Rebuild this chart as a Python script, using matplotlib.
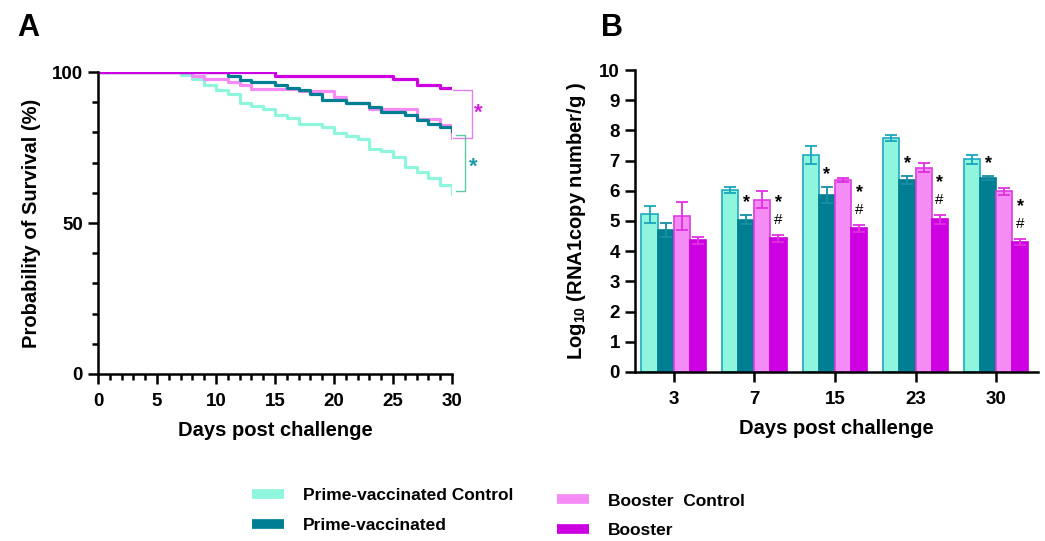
import numpy as np
import matplotlib
matplotlib.use("Agg")
import matplotlib.pyplot as plt
from matplotlib.lines import Line2D

plt.rcParams['font.family'] = ['Liberation Sans', 'DejaVu Sans']
plt.rcParams['font.weight'] = 'bold'
plt.rcParams['mathtext.fontset'] = 'custom'
plt.rcParams['mathtext.rm'] = 'Liberation Sans:bold'
plt.rcParams['mathtext.bf'] = 'Liberation Sans:bold'

# ---- data: panel A (Kaplan-Meier steps) ----
pvc_days = [0, 7, 8, 9, 10, 11, 12, 13, 14, 15, 16, 17, 19, 20, 21, 22, 23, 24, 25, 26, 27, 28, 29, 30]
pvc_surv = [100, 98.9, 97.8, 95.8, 93.9, 92.8, 89.7, 88.6, 87.9, 85.7, 84.8, 82.7, 81.8, 79.8, 78.8,
            77.7, 74.6, 73.7, 71.8, 68.7, 66.9, 64.9, 62.7, 59.7]
pv_days = [0, 11, 12, 13, 15, 16, 17, 18, 19, 21, 23, 24, 26, 27, 28, 29, 30]
pv_surv = [100, 98.7, 97.2, 96.7, 95.8, 94.8, 93.9, 92.8, 90.8, 89.7, 88.4, 86.8, 85.7, 84.0, 82.9, 81.8, 80.4]
bc_days = [0, 8, 9, 11, 12, 13, 17, 20, 21, 23, 27, 29, 30]
bc_surv = [100, 98.7, 97.6, 96.7, 95.6, 94.5, 93.7, 91.7, 89.7, 87.8, 84.5, 82.6, 78.1]
b_days = [0, 15, 25, 27, 29, 30]
b_surv = [100, 98.7, 97.8, 95.8, 94.8, 94.8]

# ---- data: panel B (bars) ----
day_labels = ['3', '7', '15', '23', '30']
pvc_mean = [5.22, 6.04, 7.19, 7.74, 7.04]
pvc_err = [0.27, 0.10, 0.30, 0.10, 0.15]
pv_mean = [4.70, 5.04, 5.85, 6.36, 6.42]
pv_err = [0.22, 0.15, 0.27, 0.12, 0.06]
bc_mean = [5.16, 5.70, 6.36, 6.76, 5.98]
bc_err = [0.46, 0.28, 0.06, 0.15, 0.12]
b_mean = [4.36, 4.43, 4.76, 5.05, 4.31]
b_err = [0.12, 0.11, 0.11, 0.15, 0.09]

names = ['Prime-vaccinated Control', 'Prime-vaccinated', 'Booster  Control', 'Booster']
fills = ['#8ff5dd', '#007e92', '#f58cf5', '#cc00e0']
edges = ['#1eaac0', '#007e92', '#dc3ce0', '#cc00e0']
errc = ['#1aa6bc', '#1a8ea4', '#e030e0', '#e030e0']

fig = plt.figure(figsize=(10.45, 5.41), dpi=100)
ax_a = fig.add_axes([0.0938, 0.3087, 0.3387, 0.5582])
ax_b = fig.add_axes([0.6077, 0.3124, 0.3856, 0.5582])

# ---- panel A ----
ax_a.step(pvc_days, pvc_surv, where='post', color=fills[0], lw=2.3)
ax_a.step(bc_days, bc_surv, where='post', color=fills[2], lw=2.3)
ax_a.step(pv_days, pv_surv, where='post', color=fills[1], lw=2.3)
ax_a.step(b_days, b_surv, where='post', color=fills[3], lw=2.3)
ax_a.set_xlim(0, 30)
ax_a.set_ylim(0, 100)
ax_a.set_xticks(range(0, 31, 5))
ax_a.set_xticks(range(0, 31), minor=True)
ax_a.set_yticks([0, 50, 100])
ax_a.set_yticks(range(0, 101, 10), minor=True)
ax_a.set_xlabel('Days post challenge', fontsize=14.5, fontweight='bold', labelpad=8)
ax_a.set_ylabel('Probability of Survival (%)', fontsize=14.5, fontweight='bold', labelpad=8)

# significance brackets
ax_a.plot([30.05, 31.7, 31.7, 30.05], [94.0, 94.0, 78.3, 78.3], color='#e080ea', lw=1.0, clip_on=False)
ax_a.text(32.2, 86.2, '*', color='#d020d8', fontsize=16, ha='center', va='center')
ax_a.plot([30.3, 31.1, 31.1, 30.3], [79.0, 79.0, 60.6, 60.6], color='#5ec9a0', lw=1.0, clip_on=False)
ax_a.text(31.8, 68.5, '*', color='#1a9aa8', fontsize=16, ha='center', va='center')

# ---- panel B ----
x = np.arange(len(day_labels))
w = 0.2
series = [(pvc_mean, pvc_err), (pv_mean, pv_err), (bc_mean, bc_err), (b_mean, b_err)]
for i, (m, e) in enumerate(series):
    xi = x + (i - 1.5) * w
    ax_b.bar(xi, m, width=w, color=fills[i], edgecolor=edges[i], linewidth=1.2, zorder=2)
    ax_b.errorbar(xi, m, yerr=e, fmt='none', ecolor=errc[i], elinewidth=1.3,
                  capsize=4.5, capthick=1.3, zorder=3)

for j in range(1, len(day_labels)):
    xp = x[j] - 0.5 * w
    ax_b.text(xp, pv_mean[j] + pv_err[j] + 0.42, '*', fontsize=13, ha='center', va='center')
    xb = x[j] + 1.5 * w
    top = b_mean[j] + b_err[j]
    ax_b.text(xb, top + 0.5, '#', fontsize=11, fontweight='normal', ha='center', va='center')
    ax_b.text(xb, top + 1.08, '*', fontsize=13, ha='center', va='center')

ax_b.set_xlim(-0.48, 4.52)
ax_b.set_ylim(0, 10)
ax_b.set_xticks(x)
ax_b.set_xticklabels(day_labels)
ax_b.set_yticks(range(0, 11))
ax_b.set_xlabel('Days post challenge', fontsize=14.5, fontweight='bold', labelpad=8)
ax_b.set_ylabel(r'Log$_{10}$ (RNA1copy number/g )', fontsize=14.5, fontweight='bold', labelpad=8)

for ax in (ax_a, ax_b):
    for s in ('top', 'right'):
        ax.spines[s].set_visible(False)
    for s in ('left', 'bottom'):
        ax.spines[s].set_linewidth(1.8)
    ax.tick_params(which='major', width=1.8, length=7.5, labelsize=13.5)
    ax.tick_params(axis='x', which='major', pad=6)
    ax.tick_params(which='minor', width=1.8, length=4)
    for lab in ax.get_xticklabels() + ax.get_yticklabels():
        lab.set_fontweight('bold')

fig.text(0.027, 0.948, 'A', fontsize=22, fontweight='bold', ha='center', va='center')
fig.text(0.586, 0.948, 'B', fontsize=22, fontweight='bold', ha='center', va='center')

# ---- legend ----
h = [Line2D([0], [0], color=c, lw=7, solid_capstyle='butt') for c in fills]
fig.legend(h[:2], names[:2], loc='upper left', bbox_to_anchor=(0.241, 0.098),
           frameon=False, fontsize=12.5, handlelength=1.85, handletextpad=1.1,
           labelspacing=0.85, borderpad=0, borderaxespad=0)
fig.legend(h[2:], names[2:], loc='upper left', bbox_to_anchor=(0.533, 0.088),
           frameon=False, fontsize=12.5, handlelength=1.85, handletextpad=1.1,
           labelspacing=0.85, borderpad=0, borderaxespad=0)

fig.savefig('out.png', dpi=100)
